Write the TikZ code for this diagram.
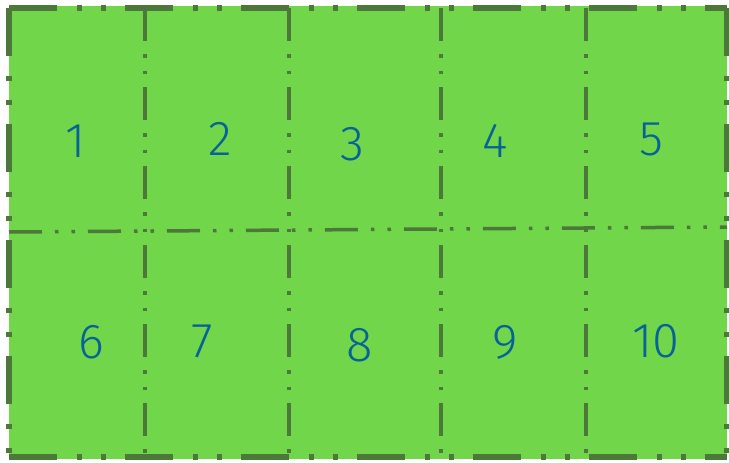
\documentclass[tikz,border=0pt]{standalone}
\usepackage{fontspec}
\setmainfont{Fira Sans}[UprightFont=* Light]
\definecolor{plotgreen}{RGB}{114,214,75}
\definecolor{edgegreen}{RGB}{76,120,58}
\definecolor{labelblue}{RGB}{8,98,150}

\begin{document}
\begin{tikzpicture}[
x=1pt, y=-1pt,
frame/.style={draw=edgegreen, line width=5.5pt, dash pattern=on 48pt off 20pt on 5pt off 19pt on 5pt off 19pt},
divide/.style={draw=edgegreen, line width=3.5pt, dash pattern=on 33pt off 13pt on 3.5pt off 13pt on 3.5pt off 13pt},
plot/.style={text=labelblue, font=\fontsize{49}{49}\selectfont, inner sep=0pt}
]
\useasboundingbox (0,0) rectangle (729,463);

\fill[plotgreen] (9,6) rectangle (727,459);

% inner divisions
\draw[divide] (9,232) -- (727,227);
\foreach \x in {145,289,441,586}
  \draw[divide] (\x,8) -- (\x,459);

% outer border
\draw[frame] (9,8) -- (727,8);
\draw[frame] (9,8) -- (9,459);
\draw[frame] (9,457) -- (727,457);
\draw[frame] (727,8) -- (727,459);

% plot numbers
\foreach \n/\x/\y in {1/76/141, 2/220/139, 3/352/144, 4/495/141, 5/651/139,
                      6/91/342, 7/202/341, 8/360/345, 9/505/342, 10/656/341}
  \node[plot] (p\n) at (\x,\y) {\n};

\end{tikzpicture}
\end{document}
